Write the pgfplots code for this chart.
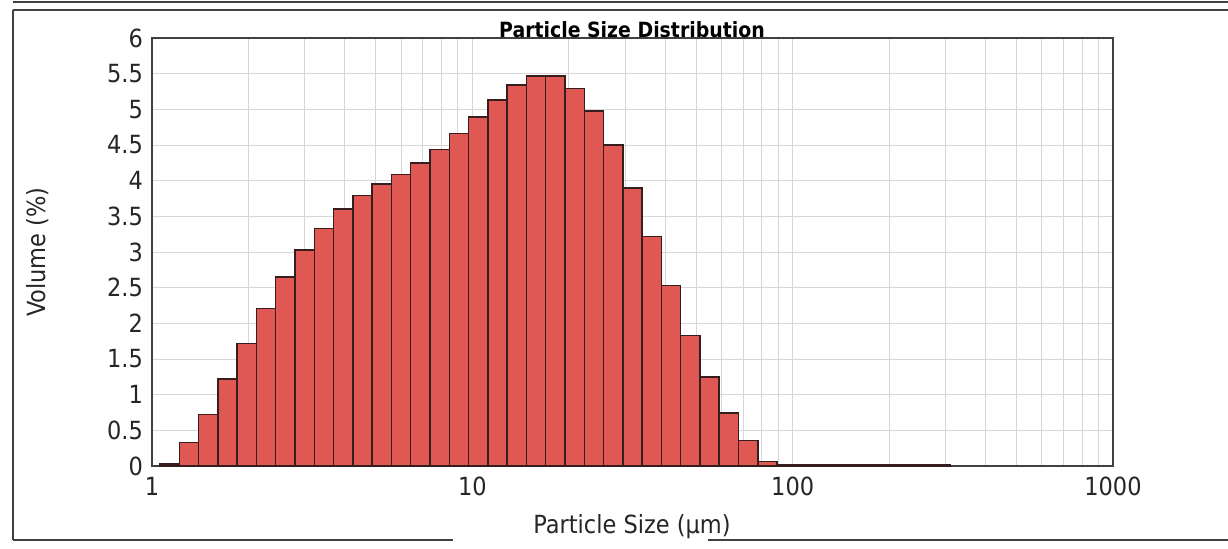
\documentclass[border=0pt]{standalone}
\usepackage{fontspec}
\setmainfont{DejaVu Sans Condensed}
\usepackage{pgfplots}
\pgfplotsset{compat=1.18}
\definecolor{barfill}{RGB}{224,88,84}
\definecolor{baredge}{RGB}{55,30,30}
\definecolor{gridc}{RGB}{215,215,215}
\begin{document}
\begin{tikzpicture}[x=1pt,y=1pt]
\useasboundingbox (-76,-41) rectangle (538,233);
\begin{axis}[at={(0,0)}, anchor=south west, scale only axis,
  width=480.5pt, height=214pt,
  xmode=log, log basis x=10, xmin=1, xmax=1000, ymin=0, ymax=6,
  xtick={1,10,100,1000}, xticklabels={1,10,100,1000},
  minor xtick={2,3,4,5,6,7,8,9,20,30,40,50,60,70,80,90,200,300,400,500,600,700,800,900},
  ytick={0,0.5,1,1.5,2,2.5,3,3.5,4,4.5,5,5.5,6},
  yticklabels={0,0.5,1,1.5,2,2.5,3,3.5,4,4.5,5,5.5,6},
  /pgf/number format/assume math mode=true,
  xmajorgrids=true, xminorgrids=true, ymajorgrids=true,
  major grid style={gridc, line width=0.5pt},
  minor grid style={gridc, line width=0.45pt},
  major tick length=0pt, minor tick length=0pt,
  axis line style={black!75, line width=0.9pt},
  tick label style={font=\fontsize{12.5}{14}\selectfont, text=black!85},
  xticklabel style={yshift=-2pt},
  yticklabel style={xshift=-1pt},
]
\addplot[ybar interval, fill=barfill, draw=baredge, line width=0.75pt] coordinates {
(1.059,0.03)
(1.217,0.33)
(1.398,0.72)
(1.606,1.22)
(1.844,1.72)
(2.118,2.21)
(2.433,2.65)
(2.795,3.03)
(3.211,3.33)
(3.688,3.60)
(4.236,3.79)
(4.866,3.95)
(5.589,4.09)
(6.420,4.25)
(7.375,4.44)
(8.472,4.66)
(9.732,4.89)
(11.18,5.13)
(12.84,5.34)
(14.75,5.47)
(16.94,5.47)
(19.46,5.29)
(22.36,4.98)
(25.68,4.50)
(29.50,3.90)
(33.88,3.22)
(38.92,2.53)
(44.71,1.83)
(51.36,1.25)
(58.99,0.74)
(67.76,0.36)
(77.84,0.06)
(89.41,0.02)
(102.7,0.02)
(118.0,0.02)
(135.5,0.02)
(155.7,0.02)
(178.8,0.02)
(205.4,0.02)
(236.0,0.02)
(271.0,0.02)
(311.3,0)
};
\end{axis}
\node[rotate=90, font=\fontsize{12.5}{14}\selectfont, text=black!85] at (-57,107) {Volume (\%)};
\node[font=\fontsize{12.5}{14}\selectfont, text=black!85] at (240,-30.5) {Particle Size (µm)};
\node[anchor=base, font=\bfseries\fontsize{10.5}{12}\selectfont, inner sep=0pt] at (240,214.5) {Particle Size Distribution};
% report frame
\draw[black!75, line width=0.8pt] (-69.5,228) -- (538,228);
\draw[black!75, line width=0.8pt] (-69.5,232) -- (538,232);
\draw[black!75, line width=0.8pt] (-69.5,228) -- (-69.5,-37);
\draw[black!75, line width=0.8pt] (-69.5,-37) -- (150.5,-37);
\draw[black!75, line width=0.8pt] (278,-37) -- (538,-37);
\end{tikzpicture}
\end{document}
